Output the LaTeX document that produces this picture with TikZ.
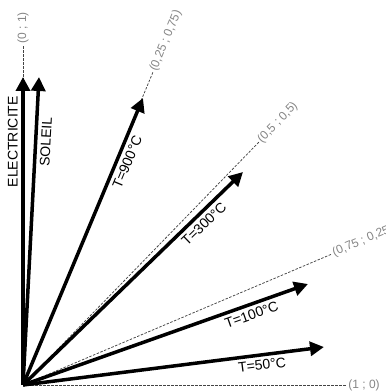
\documentclass[tikz,border=0pt]{standalone}
\usepackage{fontspec}
\setmainfont{Liberation Sans}
\usetikzlibrary{arrows.meta,positioning,calc}
\definecolor{vecblack}{HTML}{000000}
\definecolor{guidegray}{HTML}{444444}
\definecolor{labelgray}{HTML}{858585}
\tikzset{
  vec/.style={-{Triangle[length=14pt,width=14pt]},line width=3.5pt,draw=vecblack},
  guide/.style={draw=guidegray,line width=0.75pt,dash pattern=on 2.5pt off 1.5pt},
  veclabel/.style={font=\fontsize{14}{16}\selectfont,inner sep=3.5pt,sloped,pos=0.79},
  guidelabel/.style={font=\fontsize{12}{14}\selectfont,text=labelgray,inner sep=1pt,sloped,pos=1,anchor=west}
}
\begin{document}
\begin{tikzpicture}[x=1pt,y=1pt]
  \useasboundingbox (0,0) rectangle (386,392);
  \coordinate (O) at (23,7);
  % guide directions
  \coordinate (g01) at (23,347);
  \coordinate (g14) at (153,320);
  \coordinate (g12) at (259,250);
  \coordinate (g34) at (332,138);
  \coordinate (g10) at (347,7);
  % vector tips
  \coordinate (elec) at (23,315);
  \coordinate (sol) at (39,315);
  \coordinate (t900) at (143,294);
  \coordinate (t300) at (243,220);
  \coordinate (t100) at (308,108);
  \coordinate (t50) at (324,45);
  \draw[guide] (O) -- (g01) node[guidelabel] {(0 ; 1)};
  \draw[guide] (O) -- (g14) node[guidelabel] {(0,25 ; 0,75)};
  \draw[guide] (O) -- (g12) node[guidelabel] {(0,5 ; 0,5)};
  \draw[guide] (O) -- (g34) node[guidelabel] {(0,75 ; 0,25)};
  \draw[guide] (O) -- (g10) node[guidelabel] {(1 ; 0)};
  \draw[vec] (O) -- (elec) node[veclabel,above] {ELECTRICITE};
  \draw[vec] (O) -- (sol) node[veclabel,below] {SOLEIL};
  \draw[vec] (O) -- (t900) node[veclabel,below] {T=900°C};
  \draw[vec] (O) -- (t300) node[veclabel,below] {T=300°C};
  \draw[vec] (O) -- (t100) node[veclabel,below] {T=100°C};
  \draw[vec] (O) -- (t50) node[veclabel,below] {T=50°C};
\end{tikzpicture}
\end{document}
